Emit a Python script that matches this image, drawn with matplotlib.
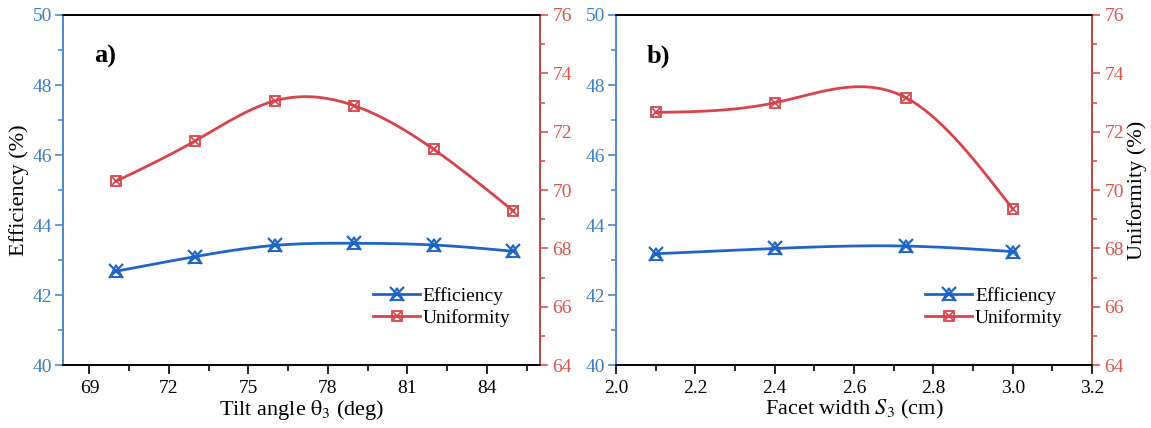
import numpy as np
import matplotlib.pyplot as plt
from matplotlib.legend_handler import HandlerTuple
from matplotlib.ticker import MultipleLocator

plt.rcParams['font.family'] = ['Liberation Serif', 'DejaVu Serif']
plt.rcParams['mathtext.fontset'] = 'stix'

# panel a: tilt angle sweep
tilt = [70, 73, 76, 79, 82, 85]
eff_tilt = [42.68, 43.10, 43.42, 43.48, 43.43, 43.25]
uni_tilt = [70.30, 71.69, 73.06, 72.89, 71.39, 69.28]

# panel b: facet width sweep
width = [2.1, 2.4, 2.73, 3.0]
eff_width = [43.18, 43.33, 43.40, 43.24]
uni_width = [72.66, 72.99, 73.17, 69.35]

blue = '#1f65c6'
red = '#d8434b'
left_col = '#4a8bc9'
right_col = '#d9534f'


def natural_spline(x, y, n=300):
    # natural cubic spline through the measured points
    x = np.asarray(x, float)
    y = np.asarray(y, float)
    k = len(x)
    h = np.diff(x)
    A = np.zeros((k, k))
    b = np.zeros(k)
    A[0, 0] = 1
    A[-1, -1] = 1
    for i in range(1, k - 1):
        A[i, i - 1] = h[i - 1]
        A[i, i] = 2 * (h[i - 1] + h[i])
        A[i, i + 1] = h[i]
        b[i] = 6 * ((y[i + 1] - y[i]) / h[i] - (y[i] - y[i - 1]) / h[i - 1])
    M = np.linalg.solve(A, b)
    xs = np.linspace(x[0], x[-1], n)
    idx = np.clip(np.searchsorted(x, xs) - 1, 0, k - 2)
    x0, x1 = x[idx], x[idx + 1]
    hh = x1 - x0
    ys = (M[idx] * (x1 - xs) ** 3 / (6 * hh) + M[idx + 1] * (xs - x0) ** 3 / (6 * hh)
          + (y[idx] / hh - M[idx] * hh / 6) * (x1 - xs)
          + (y[idx + 1] / hh - M[idx + 1] * hh / 6) * (xs - x0))
    return xs, ys


def draw_panel(ax, x, eff, uni, xlim, xmajor, label, xlabel, show_left, show_right):
    ax2 = ax.twinx()

    xs, ys = natural_spline(x, eff)
    l1, = ax.plot(xs, ys, color=blue, lw=2)
    m1, = ax.plot(x, eff, ls='none', marker='^', ms=9, mfc='none', mec=blue, mew=1.4)
    m1b, = ax.plot(x, eff, ls='none', marker='x', ms=10, mec=blue, mew=1.6)

    xs, ys = natural_spline(x, uni)
    l2, = ax2.plot(xs, ys, color=red, lw=2)
    m2, = ax2.plot(x, uni, ls='none', marker='s', ms=7.5, mfc='none', mec=red, mew=1.3)
    m2b, = ax2.plot(x, uni, ls='none', marker='x', ms=5.5, mec=red, mew=1.2)

    ax.set_xlim(*xlim)
    ax.set_ylim(40, 50)
    ax2.set_ylim(64, 76)
    ax.xaxis.set_major_locator(MultipleLocator(xmajor))
    ax.xaxis.set_minor_locator(MultipleLocator(xmajor / 2))
    ax.yaxis.set_major_locator(MultipleLocator(2))
    ax.yaxis.set_minor_locator(MultipleLocator(1))
    ax2.yaxis.set_major_locator(MultipleLocator(2))
    ax2.yaxis.set_minor_locator(MultipleLocator(1))

    ax.spines['left'].set_color(left_col)
    ax2.spines['left'].set_color(left_col)
    ax2.spines['right'].set_color(right_col)
    for a in (ax, ax2):
        for s in a.spines.values():
            s.set_linewidth(1.2)

    ax.tick_params(axis='x', which='major', direction='out', length=6.5, width=1.2,
                   labelsize=14, pad=4)
    ax.tick_params(axis='x', which='minor', direction='out', length=4, width=1.2)
    ax2.tick_params(axis='x', which='both', top=True, bottom=False, labeltop=False,
                    labelbottom=False, direction='in', width=1.2)
    ax2.tick_params(axis='x', which='major', length=5)
    ax2.tick_params(axis='x', which='minor', length=3.5)
    ax.tick_params(axis='y', which='both', direction='out', color=left_col,
                   labelcolor='#3d7fc2', width=1.2, labelsize=14, pad=2)
    ax.tick_params(axis='y', which='major', length=6)
    ax.tick_params(axis='y', which='minor', length=3.5)
    ax2.tick_params(axis='y', which='both', direction='out', color=right_col,
                    labelcolor=right_col, width=1.2, labelsize=14, pad=3)
    ax2.tick_params(axis='y', which='major', length=6)
    ax2.tick_params(axis='y', which='minor', length=3.5)

    ax.set_xlabel(xlabel, fontsize=16, labelpad=1)
    if show_left:
        ax.set_ylabel('Efficiency (%)', fontsize=16, labelpad=2)
    if show_right:
        ax2.set_ylabel('Uniformity (%)', fontsize=16, labelpad=2)

    ax.text(0.065, 0.915, label, transform=ax.transAxes, fontsize=19,
            fontweight='bold', va='top', ha='left')

    ax2.legend([(l1, m1, m1b), (l2, m2, m2b)], ['Efficiency', 'Uniformity'],
               handler_map={tuple: HandlerTuple(ndivide=1, pad=0)},
               loc='lower right', bbox_to_anchor=(0.975, 0.06), frameon=False,
               fontsize=14, handlelength=2.4, handletextpad=0.15,
               labelspacing=0.2, numpoints=1)
    return ax2


fig = plt.figure(figsize=(11.51, 4.28), dpi=100)
ax_a = fig.add_axes([0.0547, 0.147, 0.4144, 0.818])
ax_b = fig.add_axes([0.5352, 0.147, 0.4136, 0.818])

draw_panel(ax_a, tilt, eff_tilt, uni_tilt, (68, 86), 3, 'a)',
           r'Tilt angle $\mathrm{\theta}_3$ (deg)', True, False)
draw_panel(ax_b, width, eff_width, uni_width, (2.0, 3.2), 0.2, 'b)',
           r'Facet width $S_3$ (cm)', False, True)
ax_b.xaxis.set_major_formatter(plt.FormatStrFormatter('%.1f'))

fig.savefig('out.png', dpi=100)
